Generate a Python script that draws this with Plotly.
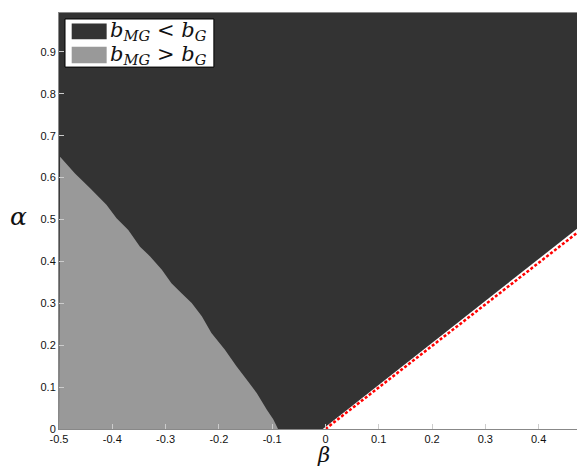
import plotly.graph_objects as go

# Axis extents (beta on x, alpha on y)
beta_range = [-0.5, 0.472]
alpha_range = [0.0, 0.993]

# Boundary between b_MG > b_G (light) and b_MG < b_G (dark) regions
gray_beta = [-0.500, -0.498, -0.470, -0.442, -0.411, -0.392, -0.370, -0.348, -0.329,
             -0.307, -0.289, -0.270, -0.251, -0.232, -0.214, -0.189, -0.167, -0.148,
             -0.129, -0.110, -0.098, -0.089]
gray_alpha = [0.000, 0.650, 0.610, 0.575, 0.535, 0.503, 0.475, 0.435, 0.412,
              0.380, 0.348, 0.324, 0.301, 0.269, 0.229, 0.190, 0.150, 0.118,
              0.086, 0.046, 0.023, 0.000]

# Upper edge of the white (infeasible) region
white_beta = [-0.005, 0.472, 0.472]
white_alpha = [0.000, 0.478, 0.000]

# Red dashed line alpha = beta
line_beta = [0.0, 0.472]
line_alpha = [0.0, 0.468]

xtick_vals = [-0.5, -0.4, -0.3, -0.2, -0.1, 0.0, 0.1, 0.2, 0.3, 0.4]
xtick_text = ["-0.5", "-0.4", "-0.3", "-0.2", "-0.1", "0", "0.1", "0.2", "0.3", "0.4"]
ytick_vals = [0.0, 0.1, 0.2, 0.3, 0.4, 0.5, 0.6, 0.7, 0.8, 0.9]
ytick_text = ["0", "0.1", "0.2", "0.3", "0.4", "0.5", "0.6", "0.7", "0.8", "0.9"]

legend_labels = ["<i>b</i><sub><i>MG</i></sub> &lt; <i>b</i><sub><i>G</i></sub>",
                 "<i>b</i><sub><i>MG</i></sub> &gt; <i>b</i><sub><i>G</i></sub>"]

DARK = "#333333"
GRAY = "#999999"

fig = go.Figure()
fig.add_trace(go.Scatter(
    x=[beta_range[0], beta_range[1], beta_range[1], beta_range[0]],
    y=[alpha_range[0], alpha_range[0], alpha_range[1], alpha_range[1]],
    fill="toself", fillcolor=DARK, mode="none", name=legend_labels[0], showlegend=False))
fig.add_trace(go.Scatter(
    x=gray_beta, y=gray_alpha, fill="toself", fillcolor=GRAY, mode="none",
    name=legend_labels[1], showlegend=False))
fig.add_trace(go.Scatter(
    x=white_beta, y=white_alpha, fill="toself", fillcolor="white", mode="none",
    showlegend=False))
fig.add_trace(go.Scatter(
    x=line_beta, y=line_alpha, mode="lines",
    line=dict(color="#ff0000", width=2.5, dash="3px,2px"),
    showlegend=False))

axis_common = dict(showgrid=False, zeroline=False, showline=True, linecolor="#888888",
                   linewidth=1, mirror=True, ticks="inside", ticklen=5,
                   tickcolor="#cccccc",
                   tickfont=dict(family="Liberation Sans, Arial", size=11, color="#111111"))

# Custom legend box (paper coordinates)
shapes = [
    dict(type="rect", xref="paper", yref="paper", x0=0.0116, x1=0.299, y0=0.870, y1=0.9856,
         fillcolor="white", line=dict(color="black", width=1), layer="above"),
    dict(type="rect", xref="paper", yref="paper", x0=0.0245, x1=0.092, y0=0.937, y1=0.975,
         fillcolor=DARK, line=dict(width=0), layer="above"),
    dict(type="rect", xref="paper", yref="paper", x0=0.0245, x1=0.092, y0=0.879, y1=0.919,
         fillcolor=GRAY, line=dict(width=0), layer="above"),
]
math_font = dict(family="DejaVu Serif", size=21, color="#111111")
annotations = [
    dict(text=legend_labels[0], xref="paper", yref="paper", x=0.094, y=0.957,
         xanchor="left", yanchor="middle", showarrow=False, font=math_font),
    dict(text=legend_labels[1], xref="paper", yref="paper", x=0.094, y=0.899,
         xanchor="left", yanchor="middle", showarrow=False, font=math_font),
    dict(text="<i>α</i>", xref="paper", yref="paper", x=-0.079, y=0.51,
         xanchor="center", yanchor="middle", showarrow=False,
         font=dict(family="DejaVu Serif", size=25, color="#111111")),
    dict(text="<i>β</i>", xref="paper", yref="paper", x=0.51, y=-0.0636,
         xanchor="center", yanchor="middle", showarrow=False,
         font=dict(family="DejaVu Serif", size=21, color="#111111")),
]

fig.update_layout(
    width=577, height=468,
    margin=dict(l=59, r=0, t=13, b=38.5),
    paper_bgcolor="white", plot_bgcolor="white",
    xaxis=dict(range=beta_range, tickvals=xtick_vals, ticktext=xtick_text, **axis_common),
    yaxis=dict(range=alpha_range, tickvals=ytick_vals, ticktext=ytick_text, **axis_common),
    shapes=shapes,
    annotations=annotations,
    showlegend=False,
)

# Remove the default page margin so the 577x468 figure fills the window without scrollbars
fig.write_html("out.html",
               config={"displayModeBar": False},
               post_script="document.body.style.margin='0';document.body.style.overflow='hidden';")
